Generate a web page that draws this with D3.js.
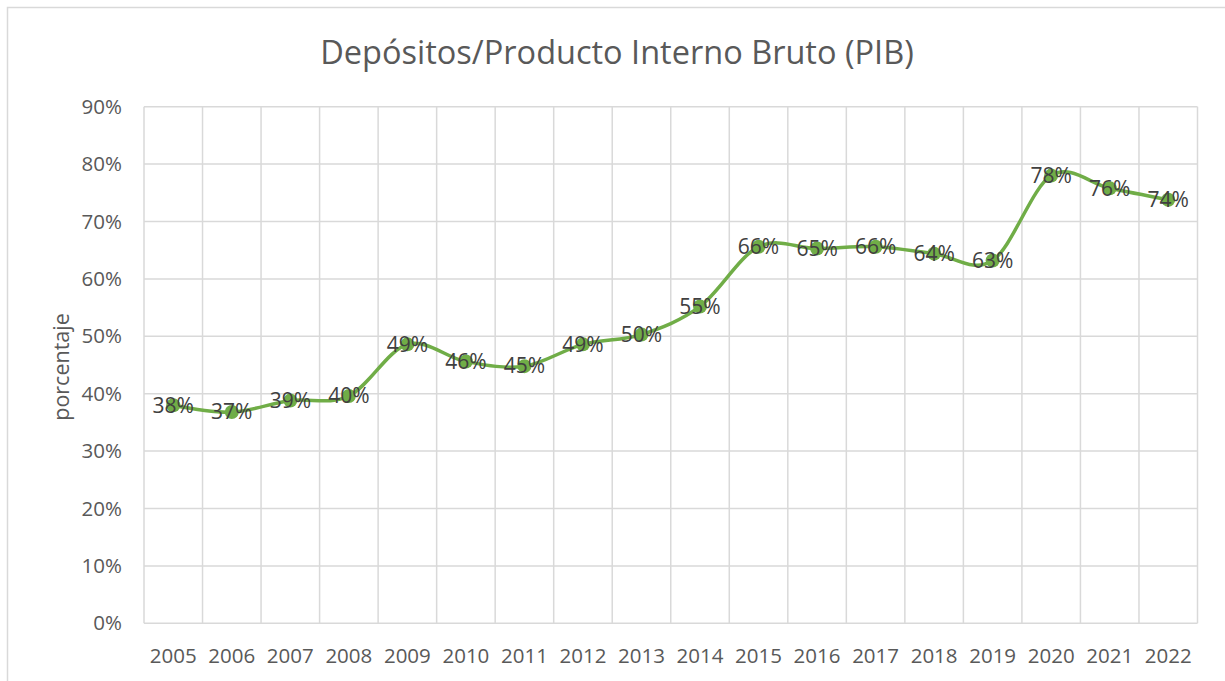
<!DOCTYPE html>
<html><head><meta charset="utf-8">
<script src="https://cdn.jsdelivr.net/npm/d3@7"></script>
<style>body{margin:0;background:#fff}svg{display:block}</style>
</head><body>
<script>
const categories = ["2005","2006","2007","2008","2009","2010","2011","2012","2013","2014","2015","2016","2017","2018","2019","2020","2021","2022"];
const values = [38.0,36.8,38.8,39.6,48.6,45.6,44.8,48.6,50.3,55.2,65.6,65.3,65.6,64.4,63.2,78.0,75.8,73.8];
const yTicks = [0,10,20,30,40,50,60,70,80,90];
const chartTitle = "Depósitos/Producto Interno Bruto (PIB)";
const yTitle = "porcentaje";

(function(){
const W = 1225, H = 681;
const font = "'Open Sans', sans-serif";
const svg = d3.select("body").append("svg").attr("width", W).attr("height", H);
svg.append("rect").attr("x",7.5).attr("y",7.5).attr("width",1240).attr("height",700)
  .attr("fill","#fff").attr("stroke","#d9d9d9").attr("stroke-width",1.5);

const pLeft = 144, pRight = 1197.5, pTop = 106.7, pBottom = 623.3;
const x = d3.scaleBand().domain(categories).range([pLeft, pRight]);
const y = d3.scaleLinear().domain([0, 90]).range([pBottom, pTop]);

svg.append("g").selectAll("line").data(yTicks).join("line")
  .attr("x1", pLeft).attr("x2", pRight).attr("y1", d=>y(d)).attr("y2", d=>y(d))
  .attr("stroke","#d9d9d9").attr("stroke-width",1.5);
const bounds = categories.map(c=>x(c)).concat([pRight]);
svg.append("g").selectAll("line").data(bounds).join("line")
  .attr("x1", d=>d).attr("x2", d=>d).attr("y1", pTop).attr("y2", pBottom)
  .attr("stroke","#d9d9d9").attr("stroke-width",1.5);

svg.append("g").selectAll("text").data(yTicks).join("text")
  .attr("x", 122).attr("y", d=>y(d)).attr("dy","0.35em").attr("text-anchor","end")
  .attr("font-family", font).attr("font-size", 20.5).attr("fill","#595959")
  .text(d=>d+"%");
svg.append("g").selectAll("text").data(categories).join("text")
  .attr("x", d=>x(d)+x.bandwidth()/2).attr("y", 656).attr("dy","0.35em").attr("text-anchor","middle")
  .attr("font-family", font).attr("font-size", 20.5).attr("fill","#595959")
  .text(d=>d);

svg.append("text").attr("x", 617).attr("y", 53).attr("dy","0.35em").attr("text-anchor","middle")
  .attr("font-family", font).attr("font-size", 32.5).attr("fill","#595959").text(chartTitle);
svg.append("text").attr("transform","translate(61,367) rotate(-90)").attr("dy","0.35em")
  .attr("text-anchor","middle").attr("font-family", font).attr("font-size", 21.5).attr("fill","#595959").text(yTitle);

const pts = categories.map((c,i)=>[x(c)+x.bandwidth()/2, y(values[i])]);
const line = d3.line().curve(d3.curveCatmullRom.alpha(0));
svg.append("path").attr("d", line(pts)).attr("fill","none").attr("stroke","#70AD47")
  .attr("stroke-width",3.5).attr("stroke-linecap","round");
svg.append("g").selectAll("circle").data(pts).join("circle")
  .attr("cx", d=>d[0]).attr("cy", d=>d[1]).attr("r", 7).attr("fill","#70AD47");

svg.append("g").selectAll("text").data(categories).join("text")
  .attr("x", (c)=>x(c)+x.bandwidth()/2).attr("y", (c,i)=>y(values[i])).attr("dy","0.35em")
  .attr("text-anchor","middle").attr("font-family", font).attr("font-size", 21).attr("fill","#404040")
  .text((c,i)=>Math.round(values[i])+"%");
})();
</script>
</body></html>
